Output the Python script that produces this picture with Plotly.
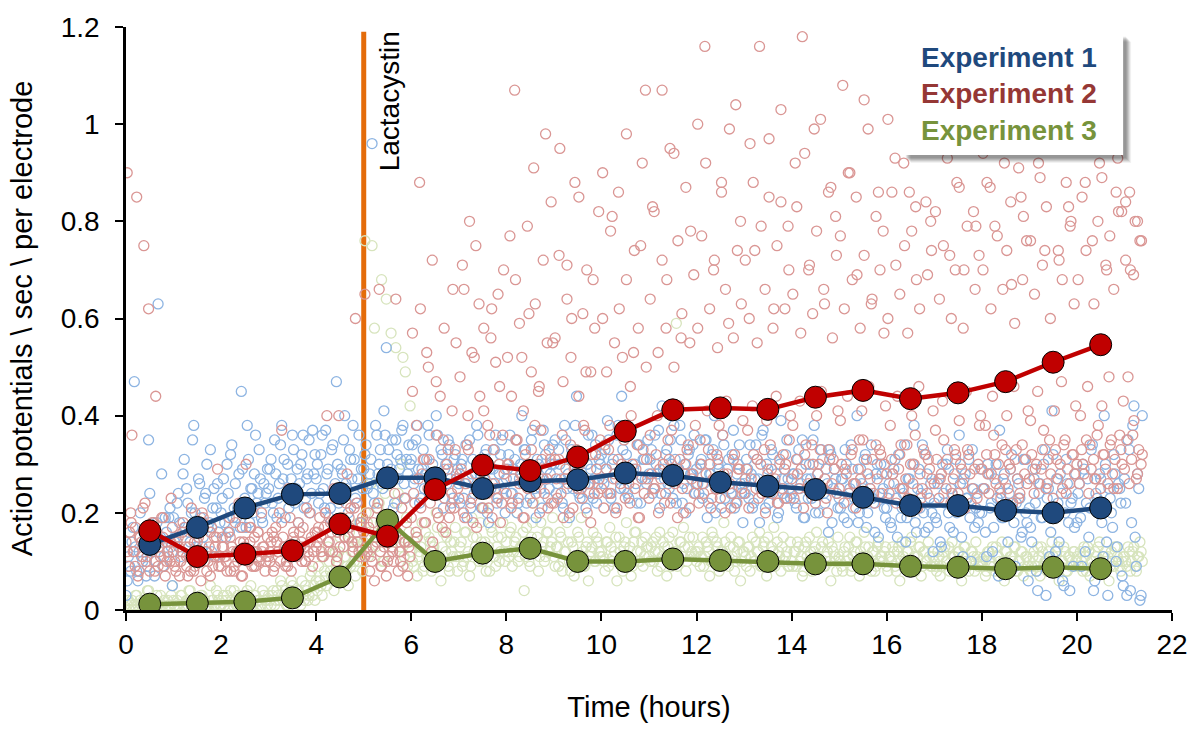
import plotly.graph_objects as go

# ---------------- data ----------------
hours = [0.5, 1.5, 2.5, 3.5, 4.5, 5.5, 6.5, 7.5, 8.5, 9.5, 10.5, 11.5, 12.5,
         13.5, 14.5, 15.5, 16.5, 17.5, 18.5, 19.5, 20.5]
exp1_mean = [0.135, 0.170, 0.210, 0.238, 0.240, 0.272, 0.272, 0.250, 0.265, 0.268,
             0.282, 0.277, 0.263, 0.255, 0.248, 0.232, 0.215, 0.215, 0.205, 0.200, 0.210]
exp2_mean = [0.163, 0.110, 0.115, 0.122, 0.177, 0.152, 0.248, 0.298, 0.287, 0.315,
             0.368, 0.412, 0.416, 0.413, 0.438, 0.452, 0.435, 0.447, 0.470, 0.510, 0.546]
exp3_mean = [0.012, 0.014, 0.017, 0.025, 0.068, 0.185, 0.100, 0.117, 0.127, 0.100,
             0.100, 0.105, 0.102, 0.100, 0.095, 0.095, 0.090, 0.088, 0.085, 0.088, 0.085]

# raw per-electrode readings, hundredths of AP/sec, one string per hour.
exp1_raw_a = [
    "6 9 14 47 8 12 11 16 7 35 13 18 10 63 15 9 19 12 21 5",
    "14 22 18 12 31 25 16 20 38 13 27 19 15 24 17 33 21 11 26 18",
    "23 18 30 16 34 21 19 28 45 22 17 31 25 20 36 24 27 18 22 29",
    "29 22 35 19 26 38 31 24 21 27 33 25 18 30 36 23 28 20 37 32",
    "30 24 36 21 28 19 33 25 47 22 29 35 26 20 31 38 23 27 18 25",
    "32 25 28 96 22 36 30 26 41 54 33 29 21 35 27 31 38 23 28 30",
    "34 27 38 22 29 25 31 36 24 28 40 26 33 21 30 35 27 23 32 29",
    "22 31 26 19 35 28 24 38 30 21 27 33 18 25 29 36 23 32 26 20",
    "29 36 24 31 20 27 40 33 22 26 35 28 19 30 25 37 32 23 28 34",
    "35 26 30 22 38 25 19 33 28 44 24 31 27 21 36 29 23 34 26 30",
    "27 33 39 24 30 21 36 28 44 25 32 23 37 29 26 34 22 31 27 35",
    "31 24 36 28 21 42 27 33 25 30 38 22 29 35 26 20 32 28 34 24",
    "26 30 23 35 19 28 32 40 25 29 21 34 27 31 24 37 22 30 26 18",
    "24 29 34 21 27 31 18 36 25 30 22 33 26 28 20 39 24 32 27 23",
    "28 22 31 25 35 19 27 30 23 38 26 20 33 24 29 16 32 25 27 21",
    "21 27 33 18 25 29 23 40 20 26 31 17 24 34 22 28 15 30 25 19",
    "23 18 28 31 15 25 21 34 19 27 22 38 16 29 24 20 32 17 26 12",
    "19 26 14 30 22 33 17 24 28 20 36 15 27 23 31 10 25 21 18 29",
    "25 16 30 21 12 27 23 37 19 28 8 24 32 18 22 26 15 31 20 6",
    "17 29 22 4 26 19 33 23 11 41 20 27 14 24 5 31 18 22 9 28",
    "24 19 30 12 27 21 34 6 23 28 18 40 14 25 20 32 10 26 22 5",
    "22 35 4 38 15 28 2 40",
]
exp1_raw_b = [
    "3 11 8 17 13 6 20 10 15 9 24 12 7 18 14 28 11 16 19 13",
    "19 15 24 11 28 17 22 14 35 20 16 26 13 23 30 18 12 25 21 16",
    "20 27 15 24 32 19 26 21 17 29 23 38 18 25 28 22 33 19 26 24",
    "25 31 20 28 23 34 27 19 30 24 36 22 29 26 32 21 27 35 24 28",
    "27 22 32 25 37 29 21 34 26 30 23 28 40 25 33 27 31 22 36 29",
    "29 34 26 31 24 38 28 33 25 36 30 27 35 22 32 29 37 26 31 34",
    "31 26 35 29 23 33 28 38 25 30 27 36 24 32 29 26 34 22 31 28",
    "26 30 23 34 27 21 31 25 36 28 24 32 20 29 26 33 22 28 35 25",
    "27 32 24 29 35 22 30 26 33 28 23 37 25 31 27 21 34 29 25 30",
    "30 24 33 27 21 35 28 31 25 38 29 23 32 26 30 24 36 27 22 31",
    "32 26 29 35 23 31 27 38 25 33 29 24 36 28 30 22 34 27 31 26",
    "28 33 25 30 37 24 29 32 26 35 23 31 27 38 22 30 25 33 28 36",
    "29 24 31 26 35 22 28 33 20 30 27 36 23 29 25 32 21 28 34 24",
    "26 31 23 28 22 34 27 25 37 21 29 24 32 26 19 30 27 23 35 25",
    "24 28 21 33 26 19 30 23 27 35 20 28 25 31 22 26 33 18 29 24",
    "23 27 19 30 24 34 21 26 18 29 25 32 20 27 23 16 30 24 28 21",
    "21 26 17 29 23 32 19 24 14 27 22 30 18 25 21 34 16 28 23 20",
    "22 18 27 13 24 30 20 25 16 31 21 26 11 28 23 19 33 17 24 20",
    "20 25 11 28 22 17 30 7 24 19 26 14 29 21 9 27 23 16 31 18",
    "21 14 27 8 24 19 30 3 25 16 32 12 22 28 6 20 26 4 23 17",
    "18 26 9 29 22 15 33 4 24 20 27 11 30 3 23 17 28 13 25 7",
    "27 3 33 18 42 9 25 3",
]
exp2_raw_a = [
    "90 16 36 12 85 8 14 75 10 62 13 18 44 9 11 15 7 12 10 17",
    "10 14 7 12 17 9 13 21 8 11 15 6 19 12 10 16 9 13 29 11",
    "15 11 8 19 13 9 12 22 7 14 30 10 17 12 9 16 11 13 8 15",
    "12 16 9 14 20 37 13 10 25 8 15 11 18 13 17 10 12 14 9 16",
    "14 19 11 17 40 12 16 25 10 40 18 13 22 15 21 12 60 14 11 19",
    "65 12 8 10 6 14 66 9 13 7 11 15 10 64 8 12 9 14 7 11",
    "57 22 15 88 28 18 53 31 12 24 47 19 26 35 16 29 21 66 33 25",
    "28 71 19 34 80 23 52 17 63 26 41 30 21 56 33 25 65 18 36 29",
    "30 77 22 107 35 26 52 19 28 61 33 91 24 45 37 27 98 21 31 55",
    "31 23 95 36 27 71 20 60 29 33 85 25 38 49 26 18 68 32 24 35",
    "90 34 24 38 81 28 21 62 30 35 98 26 40 53 29 19 75 33 107 27",
    "36 83 25 40 29 107 22 68 31 37 94 27 42 56 20 30 34 78 28 38",
    "100 35 26 116 41 30 23 72 32 38 88 28 43 59 21 31 104 29 80 39",
    "27 37 96 42 74 31 116 24 33 39 85 29 62 44 22 103 32 30 79 40",
    "38 92 28 43 118 32 25 71 34 99 40 30 45 66 23 33 87 31 81 41",
    "39 108 29 44 90 33 26 69 35 41 105 31 46 63 24 34 86 32 78 42",
    "101 38 28 93 44 32 25 75 34 86 40 30 68 46 23 33 84 31 80 41",
    "37 96 27 43 100 31 73 24 33 88 39 29 70 45 32 22 82 79 30 40",
    "94 38 28 87 44 32 77 25 34 92 40 30 67 46 33 23 85 81 31 41",
    "39 98 29 45 89 33 74 26 35 95 41 31 72 47 34 24 83 80 32 42",
    "97 40 30 88 46 34 76 27 36 92 42 32 70 48 35 25 86 82 33 43",
    "84 48 70 36 80 28 76 32",
]
exp2_raw_b = [
    "14 9 20 12 17 7 15 11 22 13 8 18 10 16 12 19 9 14 11 23",
    "12 8 15 10 18 13 7 11 16 9 14 12 20 10 8 13 17 11 15 9",
    "9 13 11 16 8 12 18 10 14 7 13 11 17 9 15 12 10 20 13 11",
    "11 14 8 17 12 10 15 13 9 19 11 14 12 16 10 13 21 11 15 12",
    "13 17 15 11 20 14 18 12 23 16 13 19 15 28 17 14 21 16 12 18",
    "16 13 20 11 18 15 22 12 17 14 10 19 13 24 16 12 21 14 18 13",
    "19 24 16 27 21 31 18 25 22 14 28 20 26 17 23 30 19 24 21 27",
    "23 29 20 26 33 22 18 28 25 31 21 27 24 36 19 26 23 30 22 28",
    "24 30 21 27 35 23 28 19 32 25 29 22 38 26 20 31 24 27 33 22",
    "22 27 31 24 19 29 26 34 21 28 25 30 23 37 20 26 32 24 29 27",
    "25 21 29 33 24 27 20 31 26 36 23 28 22 30 25 34 19 27 24 31",
    "23 28 25 32 20 27 30 24 35 22 29 26 19 31 25 28 33 21 27 24",
    "26 22 30 24 28 33 21 27 25 31 23 36 20 28 26 24 32 22 29 25",
    "24 29 21 27 32 25 23 30 26 20 28 34 24 27 22 31 25 29 23 35",
    "27 23 31 25 29 21 34 26 24 30 22 28 33 25 27 20 31 26 29 24",
    "25 30 22 28 24 32 26 21 29 27 35 23 28 25 31 22 27 33 24 30",
    "28 24 31 26 22 29 34 25 27 23 30 26 36 21 28 25 32 24 29 27",
    "26 31 23 28 35 25 29 22 27 32 24 30 26 21 33 28 25 29 23 38",
    "29 25 32 24 28 36 26 30 23 27 33 25 29 22 31 27 24 34 28 26",
    "27 32 24 30 26 29 37 25 31 28 23 33 27 30 25 35 29 26 32 28",
    "30 26 33 28 35 24 29 31 27 38 25 32 29 26 34 28 31 25 36 30",
    "29 35 26 31 39 27 33 30",
]
exp2_raw_c = [
    "12 18 9 15 21 11 16 8 13 19 10 14",
    "9 13 16 11 8 14 10 18 12 7 15 11",
    "13 10 15 8 12 17 11 14 9 16 12 10",
    "10 15 12 18 9 13 16 11 14 10 20 12",
    "16 12 20 14 18 11 24 15 19 13 22 17",
    "11 17 13 21 9 15 19 12 16 10 23 14",
    "45 38 62 31 50 72 36 44 58 33 41 55",
    "48 66 40 53 75 44 58 38 62 51 46 70",
    "52 44 68 59 41 79 49 63 46 72 55 84",
    "56 73 47 64 52 88 44 61 70 49 58 82",
    "60 49 78 55 86 52 68 46 74 58 92 50",
    "64 82 53 72 58 95 50 76 61 87 55 69",
    "58 77 92 62 70 54 86 66 99 56 74 63",
    "72 60 88 55 79 66 97 58 75 84 62 70",
    "65 83 57 94 70 61 78 101 63 86 56 73",
    "77 62 90 68 85 58 73 99 64 81 70 57",
    "60 86 71 65 92 57 78 83 62 98 69 74",
    "82 64 75 93 60 70 87 58 79 96 66 73",
    "70 88 62 79 95 66 74 84 59 91 68 76",
    "76 65 92 71 83 60 97 74 68 88 79 63",
    "68 85 74 96 63 80 89 71 77 66 93 82",
    "72 86 69 80 76",
]
exp3_raw_a = [
    "1 0 2 1 3 0 1 2 0 4 1 2 0 1 3 1 0 2 1 5",
    "1 2 0 3 1 2 4 1 0 2 1 3 2 0 1 5 2 1 3 1",
    "2 1 3 0 2 4 1 2 3 1 0 2 5 1 3 2 1 4 2 1",
    "2 3 1 4 2 5 3 1 2 6 3 2 4 1 3 5 2 7 3 2",
    "4 6 3 8 5 10 7 4 9 12 6 8 11 5 9 14 7 10 13 8",
    "76 18 12 75 58 15 22 68 10 64 14 57 16 54 24 13 52 49 9 42",
    "10 14 7 12 18 9 11 15 8 13 20 10 6 16 12 9 14 11 17 8",
    "13 9 16 11 7 19 12 15 10 14 21 8 13 17 11 9 15 12 18 10",
    "12 16 9 14 20 11 13 4 17 10 15 22 12 8 18 14 11 16 13 19",
    "9 13 16 8 12 18 10 14 7 11 15 19 9 13 6 12 16 10 14 11",
    "11 8 14 17 10 12 6 15 9 13 18 11 7 14 16 10 12 9 15 13",
    "10 14 12 8 16 11 13 7 15 9 12 59 10 14 17 8 13 11 15 12",
    "12 9 15 11 13 7 16 10 14 8 12 18 11 9 15 13 10 14 6 12",
    "11 13 8 15 10 12 16 9 14 7 11 13 17 10 12 8 15 11 9 14",
    "9 12 14 10 7 13 11 15 8 12 16 10 13 9 11 14 6 12 10 15",
    "10 8 13 11 15 9 12 14 7 11 16 10 13 8 12 9 14 11 10 13",
    "8 11 13 9 12 6 14 10 12 8 15 11 9 13 7 12 10 14 9 11",
    "9 12 7 11 13 10 8 14 11 9 12 6 13 10 8 12 11 14 9 10",
    "10 7 12 9 13 8 11 10 14 6 12 9 11 13 8 10 12 7 11 9",
    "8 11 9 13 7 12 10 8 11 14 9 12 6 10 13 8 11 9 12 10",
    "9 12 8 11 13 7 10 12 9 14 8 11 10 6 12 9 13 10 8 11",
    "10 13 8 12 9 11 14 10",
]
exp3_raw_b = [
    "0 2 1 0 3 1 2 0 1 4 0 2 1 3 0 1 2 0 1 3",
    "2 0 1 3 1 0 2 4 1 2 0 1 3 2 1 0 2 1 4 2",
    "1 3 2 0 4 1 2 3 0 2 1 4 2 1 3 0 2 1 3 2",
    "3 1 4 2 3 6 2 4 1 3 5 2 4 3 6 2 4 3 8 5",
    "6 9 5 11 7 13 8 6 12 10 15 8 11 9 16 12 10 14 18 11",
    "14 20 11 26 16 13 21 18 10 24 15 19 12 17 22 14 30 11 19 16",
    "12 9 15 11 13 8 16 10 14 12 9 17 11 13 10 15 8 12 14 11",
    "11 14 10 16 12 9 15 13 11 18 10 14 12 8 16 11 13 10 15 12",
    "14 11 17 12 15 10 13 16 11 14 9 18 12 15 11 13 10 16 12 14",
    "11 13 9 15 10 12 14 8 13 11 16 10 12 9 14 11 13 10 15 12",
    "12 10 14 9 13 11 15 10 12 8 14 11 13 9 16 12 10 14 11 13",
    "11 13 10 15 12 9 14 11 13 10 16 12 9 14 11 13 10 15 12 11",
    "10 13 11 9 14 12 10 15 11 13 9 12 14 10 13 11 8 12 14 10",
    "12 9 13 11 10 14 12 9 13 11 15 10 12 9 14 11 13 10 12 9",
    "10 12 9 13 11 8 14 10 12 9 13 11 10 14 9 12 10 13 11 8",
    "11 9 12 10 13 8 11 14 10 12 9 13 11 10 12 8 13 10 11 12",
    "9 11 10 12 8 13 10 11 9 12 14 10 8 11 13 9 12 10 11 9",
    "10 8 11 9 12 10 13 9 11 8 12 10 11 13 9 10 12 8 11 10",
    "9 11 8 12 10 9 13 11 8 10 12 9 11 10 13 8 10 12 9 11",
    "10 9 12 8 11 13 9 10 12 8 11 10 13 9 10 12 8 11 10 12",
    "11 9 10 13 8 12 10 9 11 13 10 8 12 11 9 10 13 11 9 10",
    "11 9 12 10 13 8 11 12",
]
lactacystin_time = 5
legend_labels = ["Experiment 1", "Experiment 2", "Experiment 3"]
x_ticks = [0, 2, 4, 6, 8, 10, 12, 14, 16, 18, 20, 22]
y_ticks = [0, 0.2, 0.4, 0.6, 0.8, 1, 1.2]


def unpack(rows, per_hour, offset):
    xs, ys = [], []
    for h, row in enumerate(rows):
        for k, v in enumerate(row.split()):
            xs.append(h + (k + offset) / per_hour)
            ys.append(int(v) / 100)
    return xs, ys


def readings(groups):
    xs, ys = [], []
    for rows, per_hour, offset in groups:
        gx, gy = unpack(rows, per_hour, offset)
        xs += gx
        ys += gy
    return xs, ys


dark = ["#1F497D", "#C00000", "#77933C"]
light = ["#8DB4E2", "#DA9694", "#D7E4BD"]
legend_colors = ["#1F497D", "#953735", "#77933C"]
FONT = "Liberation Sans, Arial"

scatter_sets = [
    ([(exp3_raw_a, 20, 0.5), (exp3_raw_b, 20, 0.0)], light[2]),
    ([(exp1_raw_a, 20, 0.5), (exp1_raw_b, 20, 0.0)], light[0]),
    ([(exp2_raw_a, 20, 0.5), (exp2_raw_b, 20, 0.0), (exp2_raw_c, 12, 0.3)], light[1]),
]

fig = go.Figure()
for groups, c in scatter_sets:
    xs, ys = readings(groups)
    fig.add_trace(go.Scatter(x=xs, y=ys, mode="markers", showlegend=False,
                             marker=dict(symbol="circle-open", size=10, color=c,
                                         line=dict(width=1.3, color=c))))

for means, c in zip([exp3_mean, exp1_mean, exp2_mean], [dark[2], dark[0], dark[1]]):
    fig.add_trace(go.Scatter(x=hours, y=means, mode="lines+markers", showlegend=False,
                             line=dict(color=c, width=4.5),
                             marker=dict(size=22, color=c, line=dict(color="black", width=1))))

# Lactacystin marker line
fig.add_shape(type="line", xref="x", yref="y", x0=lactacystin_time, x1=lactacystin_time,
              y0=0, y1=1.19, line=dict(color="#E46C0A", width=5), layer="below")
fig.add_annotation(x=lactacystin_time + 0.55, y=1.195, xref="x", yref="y",
                   text="Lactacystin", textangle=-90, showarrow=False,
                   xanchor="center", yanchor="top",
                   font=dict(family=FONT, size=28, color="black"))

# Legend box (text-only legend with soft drop shadow)
L, R, T, B = 126, 1175, 20, 612


def px(x):
    return (x - L) / (R - L)


def py(y):
    return (B - y) / (B - T)


for off, a in [(8, 0.05), (7, 0.07), (6, 0.09), (5, 0.10), (4, 0.10), (3, 0.08)]:
    fig.add_shape(type="rect", xref="paper", yref="paper",
                  x0=px(905 + off), x1=px(1126 + off), y0=py(150 + off), y1=py(27 + off),
                  fillcolor="rgba(0,0,0,%.2f)" % a, line=dict(width=0), layer="above")
fig.add_shape(type="rect", xref="paper", yref="paper",
              x0=px(905), x1=px(1126), y0=py(150), y1=py(27),
              fillcolor="white", line=dict(width=0), layer="above")
for i, (lab, c) in enumerate(zip(legend_labels, legend_colors)):
    fig.add_annotation(x=px(1012), y=py(51 + 37 * i), xref="paper", yref="paper",
                       text="<b>%s</b>" % lab, showarrow=False,
                       xanchor="center", yanchor="middle",
                       font=dict(family=FONT, size=28, color=c))

fig.update_layout(
    width=1200, height=731,
    margin=dict(l=L, r=1200 - R, t=T, b=731 - B),
    paper_bgcolor="white", plot_bgcolor="white",
    font=dict(family=FONT, size=28, color="black"),
    showlegend=False,
)
fig.update_xaxes(range=[0, 22], tickvals=x_ticks, showgrid=False, zeroline=False,
                 showline=True, linecolor="black", linewidth=2.5,
                 ticks="outside", ticklen=8, tickwidth=2, tickcolor="black",
                 tickfont=dict(size=28),
                 title=dict(text="Time (hours)", font=dict(size=29), standoff=38))
fig.update_yaxes(range=[0, 1.2], tickvals=y_ticks, showgrid=False, zeroline=False,
                 showline=True, linecolor="black", linewidth=2.5,
                 ticks="outside", ticklen=8, tickwidth=2, tickcolor="black",
                 tickfont=dict(size=28), ticklabelstandoff=10,
                 title=dict(text="Action potentials \\ sec \\ per electrode",
                            font=dict(size=29), standoff=20))

fig.write_html("out.html")
